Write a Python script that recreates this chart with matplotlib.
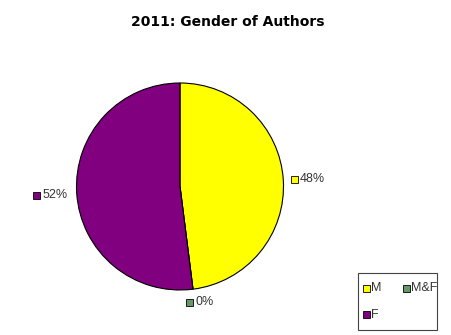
import matplotlib
matplotlib.use("Agg")
import matplotlib.pyplot as plt
from matplotlib.patches import Rectangle

categories = ["M", "M&F", "F"]
values = [48, 0, 52]
pct_labels = ["48%", "0%", "52%"]
colors = ["#FFFF00", "#669966", "#800080"]

W, H = 451, 335
fig = plt.figure(figsize=(W / 100, H / 100), dpi=100)
fig.patch.set_facecolor("white")

# pie axes (pixel box)
cx, cy, r = 180, 186.5, 103.5
ax = fig.add_axes([(cx - r) / W, 1 - (cy + r) / H, 2 * r / W, 2 * r / H])
ax.pie(values, colors=colors, startangle=90, counterclock=False,
       wedgeprops=dict(edgecolor="black", linewidth=0.8))
ax.set_xlim(-1, 1)
ax.set_ylim(-1, 1)
ax.set_aspect("auto")
ax.axis("off")

# overlay axes in pixel coordinates
ov = fig.add_axes([0, 0, 1, 1])
ov.set_xlim(0, W)
ov.set_ylim(H, 0)
ov.axis("off")
ov.patch.set_alpha(0)

lab_font = dict(family=["Liberation Sans", "DejaVu Sans"], fontsize=9, color="#333333")

ov.text(228, 22, "2011: Gender of Authors", ha="center", va="center",
        fontsize=10, fontweight="bold", family="DejaVu Sans")

# data labels
label_pos = {"M": (290.5, 179), "M&F": (186, 302), "F": (33, 195.5)}
for cat, lab, col in zip(categories, pct_labels, colors):
    x, y = label_pos[cat]
    ov.add_patch(Rectangle((x, y - 3.5), 7, 7, facecolor=col, edgecolor="black", linewidth=0.6))
    ov.text(x + 9.5, y, lab, ha="left", va="center", **lab_font)

# legend box
ov.add_patch(Rectangle((358, 273), 79, 57, facecolor="white", edgecolor="#444444", linewidth=0.8))
leg_pos = {"M": (362.5, 288), "M&F": (402.5, 288), "F": (362.5, 314.5)}
for cat, col in zip(categories, colors):
    x, y = leg_pos[cat]
    ov.add_patch(Rectangle((x, y - 3.5), 7, 7, facecolor=col, edgecolor="black", linewidth=0.6))
    ov.text(x + 9, y, cat, ha="left", va="center", **lab_font)

fig.savefig("out.png", dpi=100)
